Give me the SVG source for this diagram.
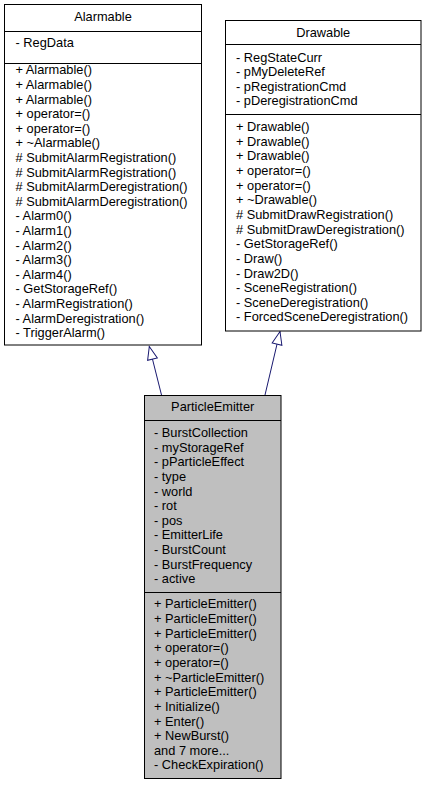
<svg xmlns="http://www.w3.org/2000/svg" width="426" height="785" viewBox="0 0 426 785">
<style>
text{font-family:"Liberation Sans",Arial,sans-serif;font-size:12.8px;fill:#000}
.t{text-anchor:middle}
.box{stroke:#000;stroke-width:1}
.w{fill:#fff}
.g{fill:#bfbfbf}
.sep{stroke:#000;stroke-width:1}
.edge{stroke:#191970;stroke-width:1;fill:none;marker-end:url(#inh)}
</style>
<defs>
<marker id="inh" markerUnits="userSpaceOnUse" markerWidth="16" markerHeight="12" refX="14" refY="6" orient="auto" overflow="visible">
<path d="M1,1 L14,6 L1,11 Z" fill="#fff" stroke="#191970" stroke-width="1"/>
</marker>
</defs>
<rect width="426" height="785" fill="#fff"/>
<g id="connectors">
<line class="edge" x1="161.5" y1="395" x2="149.3" y2="346.5"/>
<line class="edge" x1="265" y1="395" x2="280" y2="331.5"/>
</g>
<g id="Alarmable">
<rect class="box w" x="4.5" y="4.5" width="197" height="340.5"/>
<line class="sep" x1="4.5" y1="31.5" x2="201.5" y2="31.5"/>
<line class="sep" x1="4.5" y1="63.5" x2="201.5" y2="63.5"/>
<text class="t" x="103" y="21">Alarmable</text>
<text x="15.5" y="47.4">- RegData</text>
<text x="15.5" y="74.3">+ Alarmable()</text>
<text x="15.5" y="88.9">+ Alarmable()</text>
<text x="15.5" y="103.5">+ Alarmable()</text>
<text x="15.5" y="118.1">+ operator=()</text>
<text x="15.5" y="132.7">+ operator=()</text>
<text x="15.5" y="147.3">+ ~Alarmable()</text>
<text x="15.5" y="161.9"># SubmitAlarmRegistration()</text>
<text x="15.5" y="176.5"># SubmitAlarmRegistration()</text>
<text x="15.5" y="191.1"># SubmitAlarmDeregistration()</text>
<text x="15.5" y="205.7"># SubmitAlarmDeregistration()</text>
<text x="15.5" y="220.3">- Alarm0()</text>
<text x="15.5" y="234.9">- Alarm1()</text>
<text x="15.5" y="249.5">- Alarm2()</text>
<text x="15.5" y="264.1">- Alarm3()</text>
<text x="15.5" y="278.7">- Alarm4()</text>
<text x="15.5" y="293.3">- GetStorageRef()</text>
<text x="15.5" y="307.9">- AlarmRegistration()</text>
<text x="15.5" y="322.5">- AlarmDeregistration()</text>
<text x="15.5" y="337.1">- TriggerAlarm()</text>
</g>
<g id="Drawable">
<rect class="box w" x="225.5" y="20.5" width="195.5" height="310.5"/>
<line class="sep" x1="225.5" y1="44.5" x2="421" y2="44.5"/>
<line class="sep" x1="225.5" y1="114.5" x2="421" y2="114.5"/>
<text class="t" x="323.2" y="37.2">Drawable</text>
<text x="236" y="61.5">- RegStateCurr</text>
<text x="236" y="76">- pMyDeleteRef</text>
<text x="236" y="90.5">- pRegistrationCmd</text>
<text x="236" y="105">- pDeregistrationCmd</text>
<text x="236" y="131">+ Drawable()</text>
<text x="236" y="145.65">+ Drawable()</text>
<text x="236" y="160.3">+ Drawable()</text>
<text x="236" y="174.95">+ operator=()</text>
<text x="236" y="189.6">+ operator=()</text>
<text x="236" y="204.25">+ ~Drawable()</text>
<text x="236" y="218.9"># SubmitDrawRegistration()</text>
<text x="236" y="233.55"># SubmitDrawDeregistration()</text>
<text x="236" y="248.2">- GetStorageRef()</text>
<text x="236" y="262.85">- Draw()</text>
<text x="236" y="277.5">- Draw2D()</text>
<text x="236" y="292.15">- SceneRegistration()</text>
<text x="236" y="306.8">- SceneDeregistration()</text>
<text x="236" y="321.45">- ForcedSceneDeregistration()</text>
</g>
<g id="ParticleEmitter">
<rect class="box g" x="144.5" y="395.5" width="136.5" height="383"/>
<line class="sep" x1="144.5" y1="420.5" x2="281" y2="420.5"/>
<line class="sep" x1="144.5" y1="592.5" x2="281" y2="592.5"/>
<text class="t" x="212.7" y="411">ParticleEmitter</text>
<text x="154" y="437">- BurstCollection</text>
<text x="154" y="451.63">- myStorageRef</text>
<text x="154" y="466.26">- pParticleEffect</text>
<text x="154" y="480.89">- type</text>
<text x="154" y="495.52">- world</text>
<text x="154" y="510.15">- rot</text>
<text x="154" y="524.78">- pos</text>
<text x="154" y="539.41">- EmitterLife</text>
<text x="154" y="554.04">- BurstCount</text>
<text x="154" y="568.67">- BurstFrequency</text>
<text x="154" y="583.3">- active</text>
<text x="154" y="608.4">+ ParticleEmitter()</text>
<text x="154" y="623.04">+ ParticleEmitter()</text>
<text x="154" y="637.68">+ ParticleEmitter()</text>
<text x="154" y="652.32">+ operator=()</text>
<text x="154" y="666.96">+ operator=()</text>
<text x="154" y="681.6">+ ~ParticleEmitter()</text>
<text x="154" y="696.24">+ ParticleEmitter()</text>
<text x="154" y="710.88">+ Initialize()</text>
<text x="154" y="725.52">+ Enter()</text>
<text x="154" y="740.16">+ NewBurst()</text>
<text x="154" y="754.8">and 7 more...</text>
<text x="154" y="769.44">- CheckExpiration()</text>
</g>
</svg>
